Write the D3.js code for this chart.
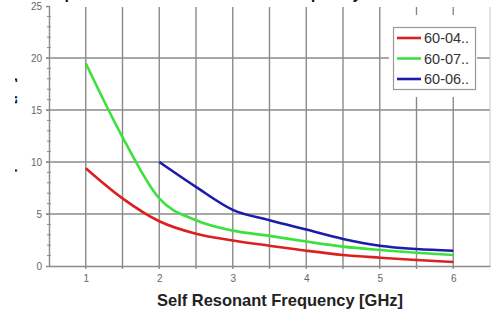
<!DOCTYPE html>
<html><head><meta charset="utf-8">
<script src="https://cdn.jsdelivr.net/npm/d3@7"></script>
<style>html,body{margin:0;padding:0;background:#fff;}svg{display:block;font-family:"Liberation Sans",Arial,sans-serif;}</style>
</head><body>
<script>
const freqs = [1, 1.5, 2, 2.5, 3, 3.5, 4, 4.5, 5, 5.5, 6];
const s6004 = [9.4, 6.5, 4.3, 3.1, 2.45, 1.95, 1.47, 1.06, 0.8, 0.58, 0.38];
const s6007 = [19.5, 12.4, 6.5, 4.4, 3.4, 2.9, 2.35, 1.86, 1.54, 1.28, 1.06];
const freqs06 = [2, 2.5, 3, 3.5, 4, 4.5, 5, 5.5, 6];
const s6006 = [10, 7.6, 5.4, 4.4, 3.5, 2.6, 1.95, 1.63, 1.47];
const seriesNames = ["60-04..", "60-07..", "60-06.."];
const seriesColors = ["#dc2020", "#3ee03e", "#1c1caa"];
const xTicks = [1, 2, 3, 4, 5, 6];
const yTicks = [0, 5, 10, 15, 20, 25];
const xTitle = "Self Resonant Frequency [GHz]";
const yTitle = "Capacitance [pF]";
const chartTitle = "Capacitance vs. Self Resonant Frequency";

const W = 496, H = 310;
const svg = d3.select("body").append("svg").attr("width", W).attr("height", H);
const x = d3.scaleLinear().domain([0.5, 6.5]).range([49, 490]);
const y = d3.scaleLinear().domain([0, 25]).range([266, 6]);
const grid = "#8a8a8a";

// title (cut off at top, as in the reference)
svg.append("text").attr("x", 44).attr("y", -1).attr("font-size", 16).attr("font-weight", "bold")
  .attr("fill", "#111").text(chartTitle);

// y title, clipped on the left
svg.append("clipPath").attr("id", "yc").append("rect").attr("x", 15).attr("y", 0).attr("width", 20).attr("height", H);
svg.append("g").attr("clip-path", "url(#yc)").append("text")
  .attr("transform", "translate(14,134) rotate(-90)").attr("text-anchor", "middle")
  .attr("font-size", 14).attr("font-weight", "bold").attr("fill", "#111").text(yTitle);

// vertical grid lines every 0.5
const vGrid = d3.range(1, 6.01, 0.5);
svg.append("g").selectAll("line").data(vGrid).join("line")
  .attr("x1", d => x(d)).attr("x2", d => x(d)).attr("y1", y(25) + 1).attr("y2", y(0) + 3)
  .attr("stroke", grid).attr("stroke-width", 1.4);
// horizontal grid lines
svg.append("g").selectAll("line").data([5, 10, 15, 20]).join("line")
  .attr("x1", x(0.5) - 3).attr("x2", x(6.5)).attr("y1", d => y(d)).attr("y2", d => y(d))
  .attr("stroke", grid).attr("stroke-width", 1.4);
// right border
svg.append("line").attr("x1", x(6.5)).attr("x2", x(6.5)).attr("y1", y(25) + 1).attr("y2", y(0))
  .attr("stroke", "#c8c8c8").attr("stroke-width", 1);

// x axis
const xAxis = d3.axisBottom(x).tickValues(xTicks).tickSize(0).tickPadding(9).tickFormat(d3.format("d"));
const gx = svg.append("g").attr("transform", `translate(0,${y(0)})`).call(xAxis);
gx.select(".domain").attr("stroke", grid).attr("stroke-width", 1.4);
gx.selectAll("text").attr("fill", "#666").attr("font-size", 10).attr("font-family", "Liberation Sans, Arial, sans-serif");
// y axis
const yAxis = d3.axisLeft(y).tickValues(yTicks).tickSize(3).tickPadding(4);
const gy = svg.append("g").attr("transform", `translate(${x(0.5)},0)`).call(yAxis);
gy.select(".domain").attr("stroke", grid).attr("stroke-width", 1.4);
gy.selectAll(".tick line").attr("stroke", grid);
gy.selectAll("text").attr("fill", "#666").attr("font-size", 10).attr("font-family", "Liberation Sans, Arial, sans-serif");
// minor y ticks
const minorY = d3.range(0, 25.01, 1).filter(v => v % 5 !== 0);
svg.append("g").selectAll("line").data(minorY).join("line")
  .attr("x1", x(0.5) - 2).attr("x2", x(0.5) + 2).attr("y1", d => y(d)).attr("y2", d => y(d))
  .attr("stroke", grid).attr("stroke-width", 1);

// lines
const line = d3.line().x(d => x(d[0])).y(d => y(d[1])).curve(d3.curveMonotoneX);
const data = [
  freqs.map((f, i) => [f, s6004[i]]),
  freqs.map((f, i) => [f, s6007[i]]),
  freqs06.map((f, i) => [f, s6006[i]])
];
svg.append("g").selectAll("path").data(data).join("path")
  .attr("d", line).attr("fill", "none")
  .attr("stroke", (d, i) => seriesColors[i]).attr("stroke-width", 2.6).attr("stroke-linejoin", "round");

// legend
const lg = svg.append("g");
lg.append("rect").attr("x", 389).attr("y", 15).attr("width", 88).attr("height", 82).attr("fill", "#fff");
lg.append("rect").attr("x", 393.5).attr("y", 27.5).attr("width", 82).attr("height", 62)
  .attr("fill", "#fff").attr("stroke", "#999").attr("stroke-width", 1.2);
const items = lg.selectAll("g.it").data(seriesNames).join("g").attr("class", "it")
  .attr("transform", (d, i) => `translate(0,${38 + i * 20.5})`);
items.append("line").attr("x1", 397).attr("x2", 421).attr("y1", 0).attr("y2", 0)
  .attr("stroke", (d, i) => seriesColors[i]).attr("stroke-width", 2.6);
items.append("text").attr("x", 424).attr("y", 5).attr("font-size", 14.5).attr("fill", "#333").text(d => d);

// x title
svg.append("text").attr("x", 157).attr("y", 306)
  .attr("font-size", 17).attr("font-weight", "bold").attr("fill", "#222")
  .attr("textLength", 246).attr("lengthAdjust", "spacingAndGlyphs").text(xTitle);
</script>
</body></html>
